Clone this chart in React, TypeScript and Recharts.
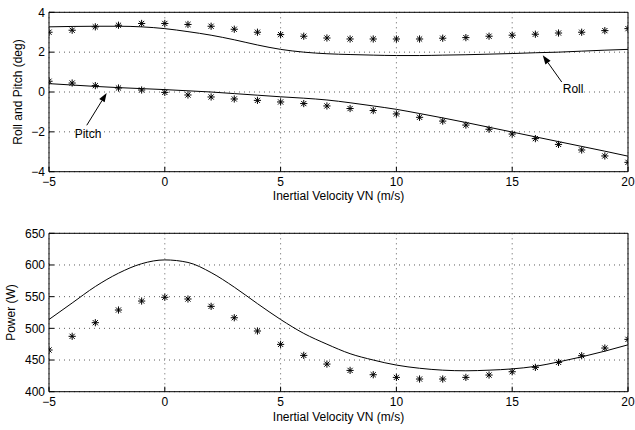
import React from 'react';
import { ComposedChart, Line, XAxis, YAxis, CartesianGrid, ReferenceLine } from 'recharts';

const velocity = [-5, -4, -3, -2, -1, 0, 1, 2, 3, 4, 5, 6, 7, 8, 9, 10, 11, 12, 13, 14, 15, 16, 17, 18, 19, 20];
const rollMeasured = [3.0, 3.1, 3.27, 3.35, 3.44, 3.44, 3.39, 3.3, 3.15, 3.0, 2.88, 2.8, 2.71, 2.66, 2.66, 2.66, 2.66, 2.7, 2.73, 2.8, 2.85, 2.9, 2.96, 3.0, 3.08, 3.18];
const rollModel = [3.27, 3.29, 3.3, 3.3, 3.27, 3.18, 3.03, 2.85, 2.62, 2.36, 2.14, 2.0, 1.92, 1.88, 1.85, 1.83, 1.83, 1.85, 1.87, 1.9, 1.93, 1.97, 2.0, 2.05, 2.1, 2.14];
const pitchMeasured = [0.54, 0.45, 0.32, 0.2, 0.1, -0.02, -0.15, -0.25, -0.35, -0.42, -0.5, -0.58, -0.7, -0.83, -0.93, -1.1, -1.27, -1.46, -1.66, -1.87, -2.11, -2.34, -2.63, -2.91, -3.21, -3.53];
const pitchModel = [0.42, 0.35, 0.28, 0.22, 0.17, 0.12, 0.06, 0.0, -0.08, -0.16, -0.24, -0.31, -0.4, -0.54, -0.7, -0.87, -1.08, -1.3, -1.53, -1.77, -2.01, -2.25, -2.49, -2.73, -2.97, -3.22];
const powerMeasured = [465.8, 487.4, 508.9, 528.9, 543.1, 549, 546.3, 534.7, 516.7, 495.8, 474.7, 457.3, 443.6, 433.6, 426.8, 422.6, 420, 420, 422.6, 426.3, 431.5, 438.4, 446.3, 456.8, 468.9, 482.6];
const powerModel = [514, 540, 566, 587, 602, 608, 604, 588, 565, 539, 514, 492, 475, 460, 450, 442, 437, 434, 433, 434, 436, 440, 447, 455, 464, 474];

const xTicks = [-5, 0, 5, 10, 15, 20];
const angleTicks = [-4, -2, 0, 2, 4];
const powerTicks = [400, 450, 500, 550, 600, 650];

const pitchArrow = [{ x: -3.37, y: -1.67 }, { x: -2.51, y: -0.05 }];
const rollArrow = [{ x: 17.14, y: 0.5 }, { x: 16.32, y: 1.84 }];

const topData = velocity.map((x, i) => ({
  x,
  rollM: rollMeasured[i],
  rollL: rollModel[i],
  pitchM: pitchMeasured[i],
  pitchL: pitchModel[i],
}));
const bottomData = velocity.map((x, i) => ({ x, powM: powerMeasured[i], powL: powerModel[i] }));

const fmt = (v: number) => (v < 0 ? `\u2212${Math.abs(v)}` : `${v}`);

const Asterisk = (props: any) => {
  const { cx, cy } = props;
  if (cx == null || cy == null) return null;
  const r = 3.6;
  const d = r * 0.72;
  return (
    <g stroke="#000" strokeWidth={1}>
      <line x1={cx - r} y1={cy} x2={cx + r} y2={cy} />
      <line x1={cx} y1={cy - r} x2={cx} y2={cy + r} />
      <line x1={cx - d} y1={cy - d} x2={cx + d} y2={cy + d} />
      <line x1={cx - d} y1={cy + d} x2={cx + d} y2={cy - d} />
    </g>
  );
};

const makeArrow = (text: string, dx: number, dy: number, anchor: string) => (props: any) => {
  const { x1, y1, x2, y2 } = props;
  if (x1 == null) return null;
  const ang = Math.atan2(y2 - y1, x2 - x1);
  const L = 9;
  const W = 3.2;
  const bx = x2 - L * Math.cos(ang);
  const by = y2 - L * Math.sin(ang);
  const px = -Math.sin(ang) * W;
  const py = Math.cos(ang) * W;
  return (
    <g>
      <line x1={x1} y1={y1} x2={bx} y2={by} stroke="#000" strokeWidth={1} />
      <polygon points={`${x2},${y2} ${bx + px},${by + py} ${bx - px},${by - py}`} fill="#000" />
      <text x={x1 + dx} y={y1 + dy} textAnchor={anchor as any} fontSize={12} fill="#000">
        {text}
      </text>
    </g>
  );
};

const axisCommon = {
  axisLine: { stroke: '#000', strokeWidth: 1 },
  tickLine: { stroke: '#000' },
  tickSize: -5,
  interval: 0 as const,
  allowDataOverflow: true,
};

const yLabel = (text: string, x: number) => (props: any) => {
  const vb = props.viewBox || {};
  const cy = (vb.y || 0) + (vb.height || 0) / 2;
  return (
    <text x={x} y={cy} transform={`rotate(-90 ${x} ${cy})`} textAnchor="middle" fontSize={12} fill="#000">
      {text}
    </text>
  );
};

const gridProps = { stroke: '#333', strokeDasharray: '1 4', strokeWidth: 0.8 };

export default function App() {
  return (
    <div
      style={{
        position: 'absolute',
        left: 0,
        top: 0,
        width: 635,
        height: 430,
        background: '#fff',
        fontFamily: '"Liberation Sans", Arial, Helvetica, sans-serif',
      }}
    >
      <ComposedChart width={635} height={215} data={topData} margin={{ top: 0, right: 0, bottom: 0, left: 0 }}>
        <CartesianGrid {...gridProps} />
        <XAxis
          dataKey="x"
          type="number"
          domain={[-5, 20]}
          ticks={xTicks}
          tickFormatter={fmt}
          height={43.3}
          tickMargin={11}
          tick={{ fill: '#000', fontSize: 12 }}
          label={{ value: 'Inertial Velocity VN (m/s)', position: 'insideTop', offset: 20, fill: '#000', fontSize: 12 }}
          {...axisCommon}
        />
        <XAxis xAxisId="top" orientation="top" dataKey="x" type="number" domain={[-5, 20]} ticks={xTicks} height={12.3} tick={false} {...axisCommon} />
        <YAxis
          type="number"
          domain={[-4, 4]}
          ticks={angleTicks}
          tickFormatter={fmt}
          width={49}
          tickMargin={9}
          tick={{ fill: '#000', fontSize: 12 }}
          label={{ content: yLabel('Roll and Pitch (deg)', 21.5) }}
          {...axisCommon}
        />
        <YAxis yAxisId="right" orientation="right" type="number" domain={[-4, 4]} ticks={angleTicks} width={7} tick={false} {...axisCommon} />
        <Line dataKey="rollL" type="monotone" stroke="#000" strokeWidth={1} dot={false} isAnimationActive={false} />
        <Line dataKey="pitchL" type="monotone" stroke="#000" strokeWidth={1} dot={false} isAnimationActive={false} />
        <Line dataKey="rollM" stroke="none" dot={<Asterisk />} activeDot={false} isAnimationActive={false} />
        <Line dataKey="pitchM" stroke="none" dot={<Asterisk />} activeDot={false} isAnimationActive={false} />
        <ReferenceLine segment={pitchArrow} shape={makeArrow('Pitch', 1.3, 13, 'middle')} />
        <ReferenceLine segment={rollArrow} shape={makeArrow('Roll', 1, 10.7, 'start')} />
      </ComposedChart>
      <ComposedChart width={635} height={215} data={bottomData} margin={{ top: 0, right: 0, bottom: 0, left: 0 }}>
        <CartesianGrid {...gridProps} />
        <XAxis
          dataKey="x"
          type="number"
          domain={[-5, 20]}
          ticks={xTicks}
          tickFormatter={fmt}
          height={38.3}
          tickMargin={11}
          tick={{ fill: '#000', fontSize: 12 }}
          label={{ value: 'Inertial Velocity VN (m/s)', position: 'insideTop', offset: 21, fill: '#000', fontSize: 12 }}
          {...axisCommon}
        />
        <XAxis xAxisId="top" orientation="top" dataKey="x" type="number" domain={[-5, 20]} ticks={xTicks} height={18.3} tick={false} {...axisCommon} />
        <YAxis
          type="number"
          domain={[400, 650]}
          ticks={powerTicks}
          width={49}
          tickMargin={9}
          tick={{ fill: '#000', fontSize: 12 }}
          label={{ content: yLabel('Power (W)', 15) }}
          {...axisCommon}
        />
        <YAxis yAxisId="right" orientation="right" type="number" domain={[400, 650]} ticks={powerTicks} width={7} tick={false} {...axisCommon} />
        <Line dataKey="powL" type="monotone" stroke="#000" strokeWidth={1} dot={false} isAnimationActive={false} />
        <Line dataKey="powM" stroke="none" dot={<Asterisk />} activeDot={false} isAnimationActive={false} />
      </ComposedChart>
    </div>
  );
}
